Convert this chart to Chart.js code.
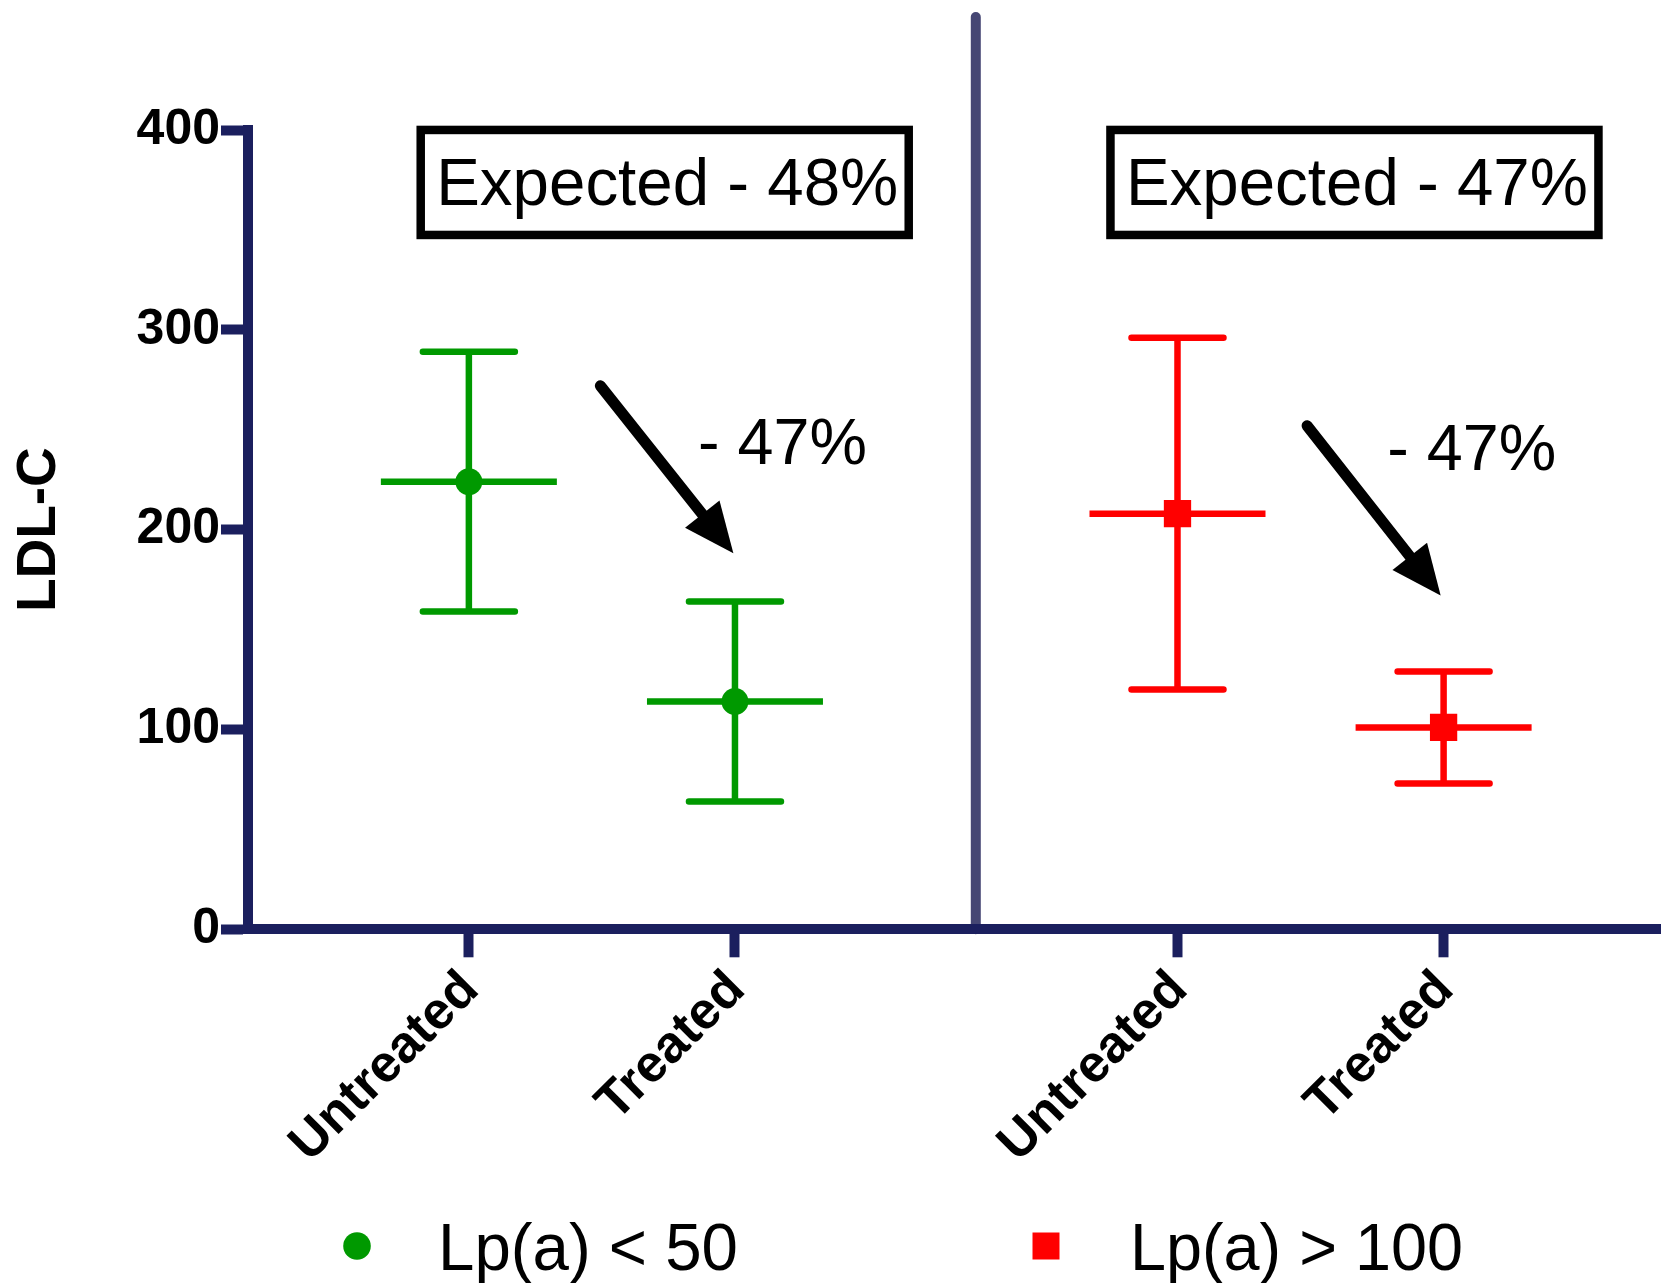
<!DOCTYPE html>
<html>
<head>
<meta charset="utf-8">
<script src="https://cdn.jsdelivr.net/npm/chart.js@4.4.1/dist/chart.umd.min.js"></script>
<style>
html, body { margin: 0; padding: 0; background: #fff; }
#wrap { width: 1661px; height: 1283px; }
</style>
</head>
<body>
<div id="wrap"><canvas id="ldl" width="1661" height="1283"></canvas></div>
<script>
// data
var categories = ["Untreated", "Treated"];
var groups = ["Lp(a) < 50", "Lp(a) > 100"];
var meanLow = [224, 114];      // LDL-C mean, Lp(a) < 50
var sdLow = [65, 50];
var meanHigh = [208, 101];     // LDL-C mean, Lp(a) > 100
var sdHigh = [88, 28];
var yTicks = [0, 100, 200, 300, 400];
var expectedText = ["Expected - 48%", "Expected - 47%"];
var changeText = ["- 47%", "- 47%"];

// layout / style
var AXIS = "#1b1f5e";
var DIVIDER = "#454673";
var GREEN = "#009900";
var RED = "#ff0000";
var FONT = "'Liberation Sans', Arial, Helvetica, sans-serif";
var groupStep = 2.663;          // x offset of second group
var dividerX = 2.905;
var MEAN_HALF = 88, CAP_HALF = 46;

function xOf(g, i) { return 1 + i + g * groupStep; }

var xTickVals = [];
var xTickLabels = [];
groups.forEach(function (g, gi) {
  categories.forEach(function (c, ci) {
    xTickVals.push(xOf(gi, ci));
    xTickLabels.push(c);
  });
});

function points(g, means) {
  return means.map(function (m, i) { return { x: xOf(g, i), y: m }; });
}

// annotation anchors in axis units
var boxPos = [{ x: 1.736, y: 374.5 }, { x: 4.328, y: 374.5 }];
var changePos = [{ x: 1.861, y: 232.9 }, { x: 4.451, y: 229.9 }];
var arrows = [
  { x1: 1.494, y1: 272, x2: 1.994, y2: 188.2 },
  { x1: 4.150, y1: 252, x2: 4.652, y2: 167.0 }
];
var legendPos = [{ mx: 357, tx: 438, w: 300 }, { mx: 1046, tx: 1130, w: 333 }];

function drawArrow(ctx, x1, y1, x2, y2) {
  var a = Math.atan2(y2 - y1, x2 - x1);
  var head = 50, hw = 22;
  var bx = x2 - head * Math.cos(a), by = y2 - head * Math.sin(a);
  ctx.save();
  ctx.strokeStyle = "#000";
  ctx.fillStyle = "#000";
  ctx.lineWidth = 11;
  ctx.lineCap = "round";
  ctx.beginPath();
  ctx.moveTo(x1, y1);
  ctx.lineTo(bx + 4 * Math.cos(a), by + 4 * Math.sin(a));
  ctx.stroke();
  ctx.beginPath();
  ctx.moveTo(x2, y2);
  ctx.lineTo(bx + hw * Math.sin(a), by - hw * Math.cos(a));
  ctx.lineTo(bx - hw * Math.sin(a), by + hw * Math.cos(a));
  ctx.closePath();
  ctx.fill();
  ctx.restore();
}

var extras = {
  id: "extras",
  beforeDraw: function (chart) {
    var ctx = chart.ctx, xs = chart.scales.x;
    var x = xs.getPixelForValue(dividerX);
    ctx.save();
    ctx.strokeStyle = DIVIDER;
    ctx.lineWidth = 10;
    ctx.lineCap = "round";
    ctx.beginPath();
    ctx.moveTo(x, 17);
    ctx.lineTo(x, chart.chartArea.bottom);
    ctx.stroke();
    ctx.restore();
  },
  beforeDatasetsDraw: function (chart) {
    var ctx = chart.ctx, xs = chart.scales.x, ys = chart.scales.y;
    chart.data.datasets.forEach(function (ds) {
      ds.data.forEach(function (p, i) {
        var cx = xs.getPixelForValue(p.x);
        var cy = ys.getPixelForValue(p.y);
        var top = ys.getPixelForValue(p.y + ds.sd[i]);
        var bot = ys.getPixelForValue(p.y - ds.sd[i]);
        ctx.save();
        ctx.strokeStyle = ds.backgroundColor;
        ctx.lineWidth = 6.5;
        ctx.lineCap = "butt";
        ctx.beginPath();
        ctx.moveTo(cx, top); ctx.lineTo(cx, bot);
        ctx.moveTo(cx - MEAN_HALF, cy); ctx.lineTo(cx + MEAN_HALF, cy);
        ctx.stroke();
        ctx.lineCap = "round";
        ctx.beginPath();
        ctx.moveTo(cx - CAP_HALF, top); ctx.lineTo(cx + CAP_HALF, top);
        ctx.moveTo(cx - CAP_HALF, bot); ctx.lineTo(cx + CAP_HALF, bot);
        ctx.stroke();
        ctx.restore();
      });
    });
  },
  afterDraw: function (chart) {
    var ctx = chart.ctx, xs = chart.scales.x, ys = chart.scales.y;
    ctx.save();
    // expected boxes
    boxPos.forEach(function (b, i) {
      var cx = xs.getPixelForValue(b.x), cy = ys.getPixelForValue(b.y);
      ctx.lineWidth = 8.5;
      ctx.strokeStyle = "#000";
      ctx.strokeRect(cx - 244, cy - 51, 488, 105);
      ctx.fillStyle = "#000";
      ctx.font = "66px " + FONT;
      ctx.textAlign = "center";
      ctx.textBaseline = "alphabetic";
      ctx.fillText(expectedText[i], cx + 2.5, cy + 24, 462);
    });
    // arrows and percentage change
    arrows.forEach(function (a) {
      drawArrow(ctx, xs.getPixelForValue(a.x1), ys.getPixelForValue(a.y1),
        xs.getPixelForValue(a.x2), ys.getPixelForValue(a.y2));
    });
    changePos.forEach(function (c, i) {
      ctx.font = "65px " + FONT;
      ctx.textAlign = "left";
      ctx.fillStyle = "#000";
      ctx.fillText(changeText[i], xs.getPixelForValue(c.x), ys.getPixelForValue(c.y), 169);
    });
    // legend
    chart.data.datasets.forEach(function (ds, i) {
      var lp = legendPos[i], my = 1246;
      ctx.fillStyle = ds.backgroundColor;
      ctx.beginPath();
      if (ds.pointStyle === "rect") {
        ctx.rect(lp.mx - 13.5, my - 13.5, 27, 27);
      } else {
        ctx.arc(lp.mx, my, 13.8, 0, Math.PI * 2);
      }
      ctx.fill();
      ctx.fillStyle = "#000";
      ctx.font = "66px " + FONT;
      ctx.textAlign = "left";
      ctx.fillText(ds.label, lp.tx, 1270, lp.w);
    });
    ctx.restore();
  }
};

var chart = new Chart(document.getElementById("ldl"), {
  type: "scatter",
  data: {
    datasets: [
      {
        label: groups[0],
        data: points(0, meanLow),
        sd: sdLow,
        backgroundColor: GREEN,
        borderColor: GREEN,
        pointStyle: "circle",
        pointRadius: 13.5,
        pointBorderWidth: 0
      },
      {
        label: groups[1],
        data: points(1, meanHigh),
        sd: sdHigh,
        backgroundColor: RED,
        borderColor: RED,
        pointStyle: "rect",
        pointRadius: 19.3,
        pointBorderWidth: 0
      }
    ]
  },
  options: {
    responsive: false,
    animation: false,
    devicePixelRatio: 1,
    layout: { autoPadding: false, padding: { top: 130, bottom: 103.7, left: 0, right: 0 } },
    plugins: { legend: { display: false }, tooltip: { enabled: false } },
    scales: {
      x: {
        type: "linear",
        min: 0.17,
        max: 5.48,
        afterFit: function (s) {
          s.height = 250;
          s.paddingLeft = 0;
          s.paddingRight = 0;
        },
        afterBuildTicks: function (s) {
          s.ticks = xTickVals.map(function (v) { return { value: v }; });
        },
        border: { display: true, color: AXIS, width: 10 },
        grid: { drawOnChartArea: false, drawTicks: true, tickLength: 28, tickWidth: 10, tickColor: AXIS },
        ticks: {
          autoSkip: false,
          minRotation: 45,
          maxRotation: 45,
          padding: 2,
          labelOffset: 2,
          color: "#000",
          font: { family: FONT, size: 52, weight: "bold" },
          callback: function (v, i) { return xTickLabels[i]; }
        }
      },
      y: {
        min: 0,
        max: 400,
        afterFit: function (s) { s.width = 248; },
        afterBuildTicks: function (s) {
          s.ticks = yTicks.map(function (v) { return { value: v }; });
        },
        border: { display: true, color: AXIS, width: 10 },
        grid: { drawOnChartArea: false, drawTicks: true, tickLength: 27, tickWidth: 10, tickColor: AXIS },
        ticks: {
          padding: 1,
          color: "#000",
          font: { family: FONT, size: 50, weight: "bold" }
        },
        title: {
          display: true,
          text: "LDL-C",
          color: "#000",
          padding: { top: 7, bottom: 0 },
          font: { family: FONT, size: 55, weight: "bold" }
        }
      }
    }
  },
  plugins: [extras]
});
</script>
</body>
</html>
